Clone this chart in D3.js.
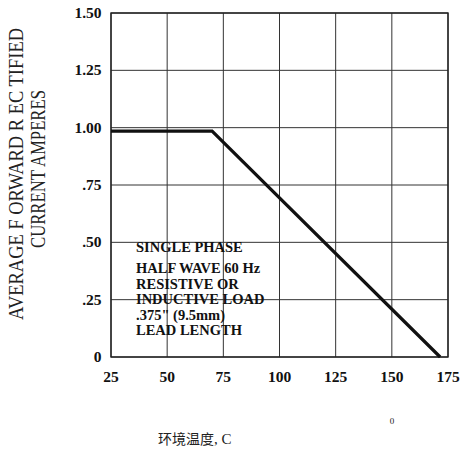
<!DOCTYPE html>
<html><head><meta charset="utf-8">
<script src="https://cdn.jsdelivr.net/npm/d3@7"></script>
<style>body{margin:0;background:#fff}svg{display:block}</style>
</head><body><svg id="c" width="465" height="450"></svg>
<script>
const xTicks = [25, 50, 75, 100, 125, 150, 175];
const yTicks = [0, 0.25, 0.5, 0.75, 1.0, 1.25, 1.5];
const yTickLabels = ["0", ".25", ".50", ".75", "1.00", "1.25", "1.50"];
const curveTemp = [25, 70, 171.5];
const curveAmps = [0.985, 0.985, 0];
const noteLines = ["SINGLE PHASE", "HALF WAVE 60 Hz", "RESISTIVE OR", "INDUCTIVE LOAD", ".375\" (9.5mm)", "LEAD LENGTH"];
const yTitle = ["AVERAGE F ORWARD R EC TIFIED", "CURRENT AMPERES"];
const xTitle = "环境温度";

const svg = d3.select("#c");
const serif = "'Liberation Serif','DejaVu Serif',serif";
const x = d3.scaleLinear().domain([25, 175]).range([111, 448]);
const y = d3.scaleLinear().domain([0, 1.5]).range([357, 13]);

const g = svg.append("g");
// grid
g.selectAll(".vg").data(xTicks).join("line")
  .attr("x1", d => x(d)).attr("x2", d => x(d)).attr("y1", y(0)).attr("y2", y(1.5))
  .attr("stroke", "#333").attr("stroke-width", 1);
g.selectAll(".hg").data(yTicks).join("line")
  .attr("y1", d => y(d)).attr("y2", d => y(d)).attr("x1", x(25)).attr("x2", x(175))
  .attr("stroke", "#333").attr("stroke-width", 1);
g.append("rect").attr("x", x(25)).attr("y", y(1.5)).attr("width", x(175) - x(25)).attr("height", y(0) - y(1.5))
  .attr("fill", "none").attr("stroke", "#222").attr("stroke-width", 1.4);

// y tick labels
g.selectAll(".yl").data(yTicks).join("text")
  .attr("x", 101.5).attr("y", d => y(d)).attr("dy", "0.33em")
  .attr("text-anchor", "end").attr("font-family", serif).attr("font-weight", "bold").attr("font-size", 15.5)
  .attr("fill", "#111").text((d, i) => yTickLabels[i]);
// x tick labels
g.selectAll(".xl").data(xTicks).join("text")
  .attr("x", d => x(d)).attr("y", 382)
  .attr("text-anchor", "middle").attr("font-family", serif).attr("font-weight", "bold").attr("font-size", 15.5)
  .attr("fill", "#111").text(d => d);

// curve
const line = d3.line().x(d => x(d[0])).y(d => y(d[1]));
g.append("path").datum(curveTemp.map((t, i) => [t, curveAmps[i]]))
  .attr("d", line).attr("fill", "none").attr("stroke", "#111").attr("stroke-width", 3.2);

// note
const noteY = [247, 268, 283.5, 299, 314.5, 330];
const noteLen = [117, 141, 107, 141, 98, 117];
g.selectAll(".nt").data(noteLines).join("text")
  .attr("x", 136).attr("y", (d, i) => noteY[i]).attr("dy", "0.35em")
  .attr("font-family", serif).attr("font-weight", "bold").attr("font-size", 14.5).attr("fill", "#111")
  .text(d => d);

// y title
const yt = [{x: 23, y: 174, fs: 20, len: 292}, {x: 45, y: 169, fs: 20, len: 158}];
yTitle.forEach((t, i) => {
  g.append("text").attr("transform", `translate(${yt[i].x},${yt[i].y}) rotate(-90)`)
    .attr("text-anchor", "middle").attr("font-family", serif).attr("font-size", yt[i].fs).attr("fill", "#222")
    .attr("textLength", yt[i].len).attr("lengthAdjust", "spacingAndGlyphs")
    .text(t);
});
// x title
const xt = g.append("text").attr("x", 158).attr("y", 444).attr("font-family", "'Noto Sans CJK SC', serif")
  .attr("font-size", 14).attr("fill", "#222");
xt.append("tspan").text(xTitle);
xt.append("tspan").attr("font-family", serif).attr("font-size", 15).text(", C");
g.append("text").attr("x", 392).attr("y", 424).attr("text-anchor", "middle").attr("font-family", serif)
  .attr("font-size", 9).attr("fill", "#222").text("0");
</script></body></html>
